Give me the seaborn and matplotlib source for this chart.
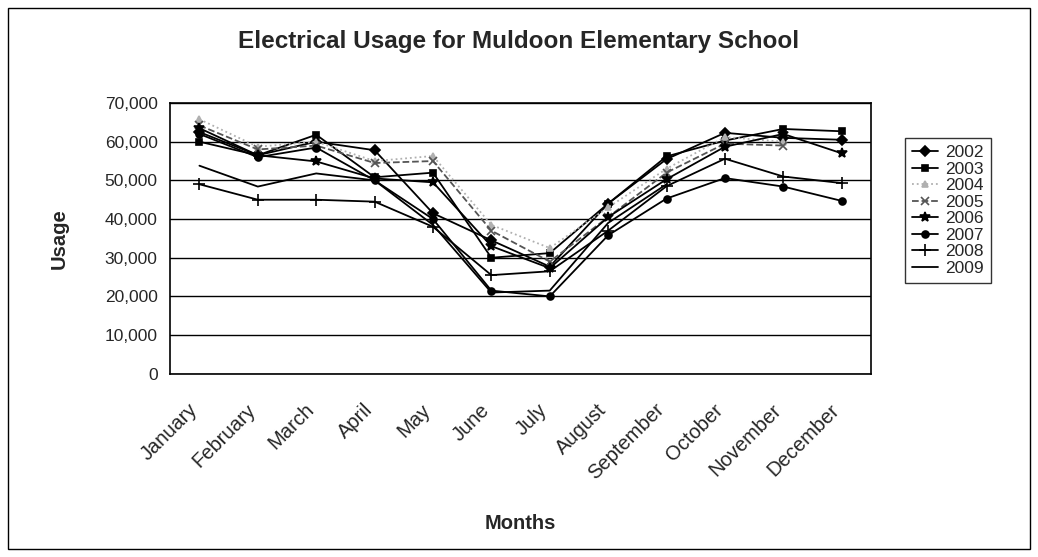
import numpy as np
import pandas as pd
import seaborn as sns
import matplotlib.pyplot as plt
from matplotlib.patches import Rectangle
from matplotlib.ticker import FuncFormatter, FixedLocator

months = ["January", "February", "March", "April", "May", "June", "July",
          "August", "September", "October", "November", "December"]
nan = np.nan

u2002 = [62500, 56500, 60000, 57800, 41500, 34500, 27700, 44000, 55500, 62300, 61000, 60500]
u2003 = [60000, 56500, 61800, 50800, 52000, 30000, 31200, 44000, 56200, 60300, 63300, 62700]
u2004 = [65800, 58700, 60000, 55000, 56300, 38500, 32500, 43000, 53000, 61200, 60000, nan]
u2005 = [64200, 58000, 59000, 54500, 55000, 37000, 29000, 40500, 52000, 59500, 59000, nan]
u2006 = [63500, 56500, 54900, 50500, 49500, 33000, 27300, 40500, 50300, 58700, 62000, 57000]
u2007 = [62000, 56000, 58500, 50000, 40000, 21500, 20000, 35800, 45300, 50600, 48400, 44700]
u2008 = [49000, 45000, 45000, 44500, 38000, 25500, 26500, 37000, 48500, 55600, 51000, 49300]
u2009 = [53800, 48400, 51800, 50000, 38500, 21000, 21500, 39000, 49000, nan, nan, nan]

years = ["2002", "2003", "2004", "2005", "2006", "2007", "2008", "2009"]
series = [u2002, u2003, u2004, u2005, u2006, u2007, u2008, u2009]

rows = []
for yr, vals in zip(years, series):
    for i, v in enumerate(vals):
        rows.append({"year": yr, "month": i, "usage": v})
df = pd.DataFrame(rows)

styles = {
    "2002": dict(marker="D", color="black", linestyle="-", markersize=5),
    "2003": dict(marker="s", color="black", linestyle="-", markersize=5),
    "2004": dict(marker="^", color="#b0b0b0", linestyle=":", markersize=4),
    "2005": dict(marker="x", color="#555555", linestyle="--", markersize=6),
    "2006": dict(marker="*", color="black", linestyle="-", markersize=7),
    "2007": dict(marker="o", color="black", linestyle="-", markersize=5),
    "2008": dict(marker="+", color="black", linestyle="-", markersize=8),
    "2009": dict(marker="", color="black", linestyle="-", markersize=0),
}

sns.set_style("white")
plt.rcParams["font.family"] = ["Liberation Sans", "DejaVu Sans"]

fig = plt.figure(figsize=(10.38, 5.57), dpi=100)
ax = fig.add_axes([0.164, 0.329, 0.675, 0.486])

for yr in years:
    st = styles[yr]
    sns.lineplot(data=df[df.year == yr], x="month", y="usage", ax=ax, label=yr,
                 marker=st["marker"], color=st["color"], linestyle=st["linestyle"],
                 markersize=st["markersize"], linewidth=1.3, markeredgecolor=st["color"],
                 markeredgewidth=1.2, sort=False, errorbar=None)

ax.set_xlim(-0.5, len(months) - 0.5)
ax.set_ylim(0, 70000)
ax.yaxis.set_major_locator(FixedLocator(np.arange(0, 70001, 10000)))
ax.yaxis.set_major_formatter(FuncFormatter(lambda v, p: f"{int(v):,}"))
# labels sit a little left of the category centre, like the Excel original
ax.set_xticks(np.arange(len(months)) - 0.2)
ax.set_xticklabels(months, rotation=45, ha="right", rotation_mode="anchor", fontsize=14.5)
ax.set_xticks(np.arange(-0.5, len(months)), minor=True)
ax.tick_params(axis="x", which="major", length=0, pad=19)
ax.tick_params(axis="x", which="minor", length=5, width=1, direction="out", color="black")
ax.tick_params(axis="y", which="major", length=5, width=1, direction="out", labelsize=12.5,
               color="black", pad=4)
ax.grid(axis="y", color="black", linewidth=1)
ax.set_axisbelow(True)
for s in ax.spines.values():
    s.set_color("black")
    s.set_linewidth(1.2)

ax.set_xlabel("Months", fontsize=14.5, fontweight="bold", labelpad=22)
ax.set_ylabel("Usage", fontsize=14.5, fontweight="bold", labelpad=26)
fig.text(0.5, 0.925, "Electrical Usage for Muldoon Elementary School",
         ha="center", va="center", fontsize=17.5, fontweight="bold")

leg = ax.legend(loc="upper left", bbox_to_anchor=(0.872, 0.752),
                bbox_transform=fig.transFigure, fontsize=12.5, frameon=True,
                fancybox=False, edgecolor="black", handlelength=1.5, borderaxespad=0,
                borderpad=0.4, labelspacing=0.08, handletextpad=0.4)
leg.get_frame().set_linewidth(1)

fig.patches.append(Rectangle((0.008, 0.015), 0.984, 0.97, transform=fig.transFigure,
                             fill=False, edgecolor="black", linewidth=1))

fig.savefig("out.png", dpi=100)
